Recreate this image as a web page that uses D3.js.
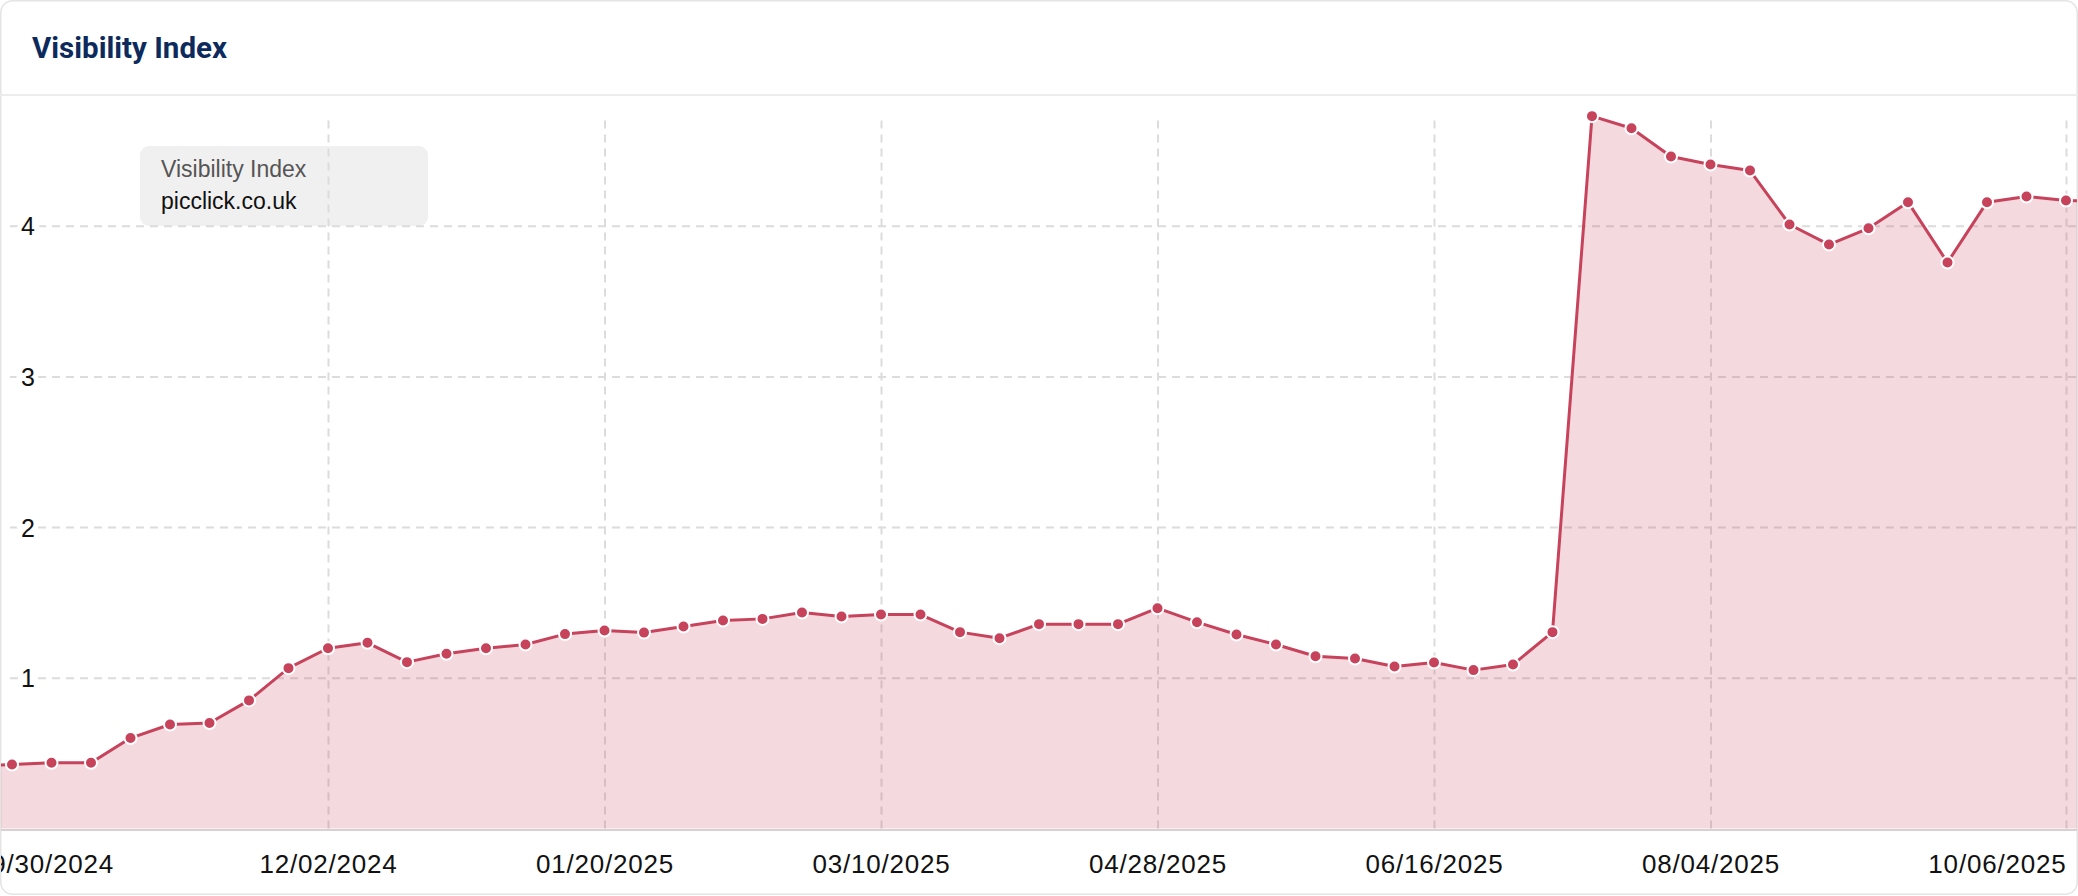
<!DOCTYPE html>
<html>
<head>
<meta charset="utf-8">
<title>Visibility Index</title>
<script src="https://d3js.org/d3.v7.min.js"></script>
<style>
  body { margin: 0; background: #fff; }
  svg { display: block; }
  text { font-family: "Liberation Sans", Arial, Helvetica, sans-serif; }
</style>
</head>
<body>
<svg width="2078" height="896"></svg>
<script>
// weekly values
var dates = ["09/30/2024","10/07/2024","10/14/2024","10/21/2024","10/28/2024",
    "11/04/2024","11/11/2024","11/18/2024","11/25/2024",
    "12/02/2024","12/09/2024","12/16/2024","12/23/2024","12/30/2024",
    "01/06/2025","01/13/2025","01/20/2025","01/27/2025",
    "02/03/2025","02/10/2025","02/17/2025","02/24/2025",
    "03/03/2025","03/10/2025","03/17/2025","03/24/2025","03/31/2025",
    "04/07/2025","04/14/2025","04/21/2025","04/28/2025",
    "05/05/2025","05/12/2025","05/19/2025","05/26/2025",
    "06/02/2025","06/09/2025","06/16/2025","06/23/2025","06/30/2025",
    "07/07/2025","07/14/2025","07/21/2025","07/28/2025",
    "08/04/2025","08/11/2025","08/18/2025","08/25/2025",
    "09/01/2025","09/08/2025","09/15/2025","09/22/2025","09/29/2025",
    "10/06/2025","10/13/2025"];
var values = [0.41, 0.425, 0.436, 0.436, 0.60,
    0.69, 0.70, 0.85, 1.064,
    1.196, 1.232, 1.104, 1.159, 1.196,
    1.221, 1.29, 1.314, 1.30,
    1.34, 1.38, 1.391, 1.433,
    1.407, 1.42, 1.42, 1.303, 1.263,
    1.356, 1.356, 1.356, 1.462,
    1.369, 1.287, 1.221, 1.143,
    1.128, 1.075, 1.102, 1.051, 1.088,
    1.303, 4.727, 4.647, 4.459,
    4.406, 4.366, 4.008, 3.875,
    3.983, 4.156, 3.756, 4.156, 4.194,
    4.167, 4.16];
var xTicks = ["09/30/2024","12/02/2024","01/20/2025","03/10/2025","04/28/2025","06/16/2025","08/04/2025","10/06/2025"];
var yTicks = [1, 2, 3, 4];
var title = "Visibility Index";
var seriesName = "picclick.co.uk";

var svg = d3.select("svg"),
    width = +svg.attr("width"),
    height = +svg.attr("height"),
    parse = d3.timeParse("%m/%d/%Y"),
    red = "#c7425b",
    bottom = 828.5;

var data = dates.map(function (d, i) { return { date: parse(d), value: values[i] }; });

var x = d3.scaleTime()
    .domain([parse("09/30/2024"), parse("10/06/2025")])
    .range([-27.5, 2066]);
var y = d3.scaleLinear()
    .domain([0, 5])
    .range([bottom, 75]);

svg.append("defs").append("clipPath").attr("id", "card")
    .append("rect")
    .attr("x", 1).attr("y", 1)
    .attr("width", width - 2).attr("height", height - 3)
    .attr("rx", 12);

// card
svg.append("rect")
    .attr("x", 0.75).attr("y", 0.75)
    .attr("width", width - 1.5).attr("height", height - 2.5)
    .attr("rx", 12)
    .attr("fill", "#fff")
    .attr("stroke", "#e4e4e4")
    .attr("stroke-width", 1.5);

svg.append("text")
    .attr("x", 32).attr("y", 58)
    .style("font-family", "Roboto, 'Liberation Sans', sans-serif")
    .style("font-weight", 700)
    .style("font-size", "29.5px")
    .attr("fill", "#0d2a5c")
    .text(title);

svg.append("line")
    .attr("x1", 0).attr("x2", width)
    .attr("y1", 95).attr("y2", 95)
    .attr("stroke", "#ececec")
    .attr("stroke-width", 2);

var plot = svg.append("g").attr("clip-path", "url(#card)");

// legend box
plot.append("rect")
    .attr("x", 140).attr("y", 146)
    .attr("width", 288).attr("height", 80)
    .attr("rx", 9)
    .attr("fill", "#f0f0f0");
plot.append("text")
    .attr("x", 161).attr("y", 177)
    .style("font-size", "23px")
    .attr("fill", "#555")
    .text(title);
plot.append("text")
    .attr("x", 161).attr("y", 209)
    .style("font-size", "23px")
    .attr("fill", "#111")
    .text(seriesName);

// grid
var hGrid = plot.append("g")
    .attr("transform", "translate(10,0)")
    .call(d3.axisLeft(y).tickValues(yTicks).tickSize(-(width - 10)).tickFormat(""));
var vGrid = plot.append("g")
    .attr("transform", "translate(0," + bottom + ")")
    .call(d3.axisBottom(x).tickValues(xTicks.map(parse)).tickSize(-(bottom - 115)).tickFormat(""));
[hGrid, vGrid].forEach(function (g) {
    g.select(".domain").remove();
    g.selectAll("line")
        .attr("stroke", "#dcdcdc")
        .attr("stroke-width", 2)
        .attr("stroke-dasharray", "8,6");
});

// series
var area = d3.area()
    .x(function (d) { return x(d.date); })
    .y0(y(0))
    .y1(function (d) { return y(d.value); });
var line = d3.line()
    .x(function (d) { return x(d.date); })
    .y(function (d) { return y(d.value); });

plot.append("path").datum(data)
    .attr("d", area)
    .attr("fill", red)
    .attr("fill-opacity", 0.2);
plot.append("path").datum(data)
    .attr("d", line)
    .attr("fill", "none")
    .attr("stroke", red)
    .attr("stroke-width", 3)
    .attr("stroke-linejoin", "round");
plot.selectAll("circle").data(data).enter().append("circle")
    .attr("cx", function (d) { return x(d.date); })
    .attr("cy", function (d) { return y(d.value); })
    .attr("r", 6)
    .attr("fill", red)
    .attr("stroke", "#fff")
    .attr("stroke-width", 2);

// x axis line
plot.append("line")
    .attr("x1", 0).attr("x2", width)
    .attr("y1", bottom + 1.5).attr("y2", bottom + 1.5)
    .attr("stroke", "#d9d0d3")
    .attr("stroke-width", 2);

// y labels
var yAxis = plot.append("g")
    .attr("transform", "translate(35,0)")
    .call(d3.axisLeft(y).tickValues(yTicks).tickSize(0).tickPadding(0).tickFormat(d3.format("d")));
yAxis.select(".domain").remove();
yAxis.selectAll("text")
    .style("font-size", "25px")
    .attr("fill", "#111")
    .attr("dy", "0.36em")
    .attr("stroke", "#fff")
    .attr("stroke-width", 10)
    .attr("paint-order", "stroke");

// x labels
var xAxis = plot.append("g")
    .attr("transform", "translate(0," + bottom + ")")
    .call(d3.axisBottom(x).tickValues(xTicks.map(parse)).tickSize(0)
        .tickFormat(d3.timeFormat("%m/%d/%Y")));
xAxis.select(".domain").remove();
var n = xTicks.length;
xAxis.selectAll("text")
    .attr("x", function (d, i) { return i === 0 ? 3 : 0; })
    .attr("y", 873 - bottom)
    .attr("dy", 0)
    .style("font-size", "26px")
    .style("letter-spacing", "0.8px")
    .attr("fill", "#111")
    .attr("text-anchor", function (d, i) { return i === 0 ? "start" : i === n - 1 ? "end" : "middle"; });
</script>
</body>
</html>
